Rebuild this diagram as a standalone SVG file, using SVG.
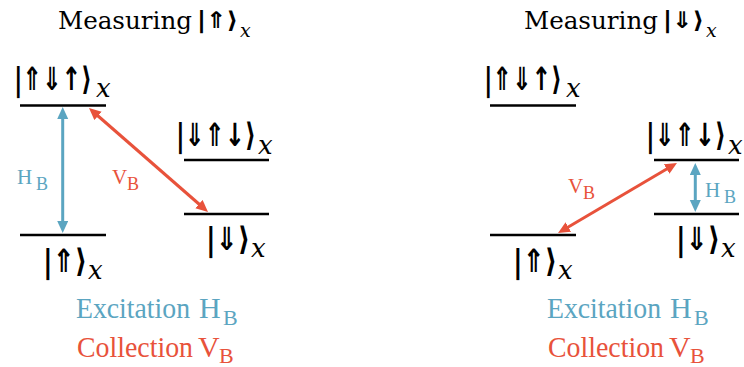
<svg xmlns="http://www.w3.org/2000/svg" width="744" height="367" viewBox="0 0 744 367">
<style>
.lvl{stroke:#000;stroke-width:2.5;fill:none}
.ket{font-family:"DejaVu Sans",sans-serif;font-weight:bold;font-size:32px;fill:#000}
.sub{font-family:"DejaVu Serif",serif;font-style:italic;font-size:26px;fill:#000}
.title{font-family:"DejaVu Serif",serif;font-size:24px;fill:#000}
.tket{font-family:"DejaVu Sans",sans-serif;font-weight:bold;font-size:23px;fill:#000}
.tsub{font-family:"DejaVu Serif",serif;font-style:italic;font-size:19px;fill:#000}
.lg{font-family:"Liberation Serif",serif;font-size:30px}
.lgs{font-family:"Liberation Serif",serif;font-size:22px}
.al{font-family:"Liberation Serif",serif;font-size:21px}
.als{font-family:"Liberation Serif",serif;font-size:18px}
.blue{fill:#5ba5c1}
.red{fill:#e8523b}
.cb{stroke:#5ba5c1;stroke-width:3;fill:none}
.cr{stroke:#e8523b;stroke-width:3;fill:none}
</style>
<defs>
<marker id="hb" markerUnits="userSpaceOnUse" markerWidth="14" markerHeight="12" refX="6" refY="5.5" orient="auto-start-reverse"><path d="M0,0 L12,5.5 L0,11 z" fill="#5ba5c1"/></marker>
<marker id="hr" markerUnits="userSpaceOnUse" markerWidth="14" markerHeight="12" refX="6" refY="5.5" orient="auto-start-reverse"><path d="M0,0 L12,5.5 L0,11 z" fill="#e8523b"/></marker>
</defs>

<g id="title-left">
<text class="title" x="58" y="29" textLength="134" lengthAdjust="spacingAndGlyphs">Measuring</text>
<text class="tket" x="197" y="28" textLength="41" lengthAdjust="spacingAndGlyphs">|⇑⟩</text>
<text class="tsub" x="240" y="37">x</text>
</g>
<g id="title-right">
<text class="title" x="524" y="29" textLength="134" lengthAdjust="spacingAndGlyphs">Measuring</text>
<text class="tket" x="663" y="28" textLength="41" lengthAdjust="spacingAndGlyphs">|⇓⟩</text>
<text class="tsub" x="706" y="37">x</text>
</g>

<g id="L-top">
<line class="lvl" x1="20" y1="105.5" x2="106" y2="105.5"/>
<text class="ket" x="14" y="90" textLength="78" lengthAdjust="spacingAndGlyphs">|⇑⇓↑⟩</text>
<text class="sub" x="96" y="97">x</text>
</g>
<g id="L-bottom">
<line class="lvl" x1="20" y1="235" x2="106" y2="235"/>
<text class="ket" x="43" y="272" textLength="44" lengthAdjust="spacingAndGlyphs">|⇑⟩</text>
<text class="sub" x="88" y="279">x</text>
</g>
<g id="L-mid">
<line class="lvl" x1="184" y1="160" x2="269" y2="160"/>
<text class="ket" x="176" y="146" textLength="80" lengthAdjust="spacingAndGlyphs">|⇓⇑↓⟩</text>
<text class="sub" x="258" y="154">x</text>
</g>
<g id="L-low">
<line class="lvl" x1="184" y1="214" x2="269" y2="214"/>
<text class="ket" x="206" y="250" textLength="44" lengthAdjust="spacingAndGlyphs">|⇓⟩</text>
<text class="sub" x="251" y="257">x</text>
</g>

<g id="R-top">
<line class="lvl" x1="490" y1="105.5" x2="576" y2="105.5"/>
<text class="ket" x="484" y="90" textLength="78" lengthAdjust="spacingAndGlyphs">|⇑⇓↑⟩</text>
<text class="sub" x="566" y="97">x</text>
</g>
<g id="R-bottom">
<line class="lvl" x1="490" y1="235" x2="576" y2="235"/>
<text class="ket" x="513" y="272" textLength="44" lengthAdjust="spacingAndGlyphs">|⇑⟩</text>
<text class="sub" x="558" y="279">x</text>
</g>
<g id="R-mid">
<line class="lvl" x1="654" y1="160" x2="739" y2="160"/>
<text class="ket" x="646" y="146" textLength="80" lengthAdjust="spacingAndGlyphs">|⇓⇑↓⟩</text>
<text class="sub" x="728" y="154">x</text>
</g>
<g id="R-low">
<line class="lvl" x1="654" y1="214" x2="739" y2="214"/>
<text class="ket" x="676" y="250" textLength="44" lengthAdjust="spacingAndGlyphs">|⇓⟩</text>
<text class="sub" x="721" y="257">x</text>
</g>

<g id="connectors">
<line class="cb" x1="62.7" y1="113" x2="62.7" y2="227" marker-start="url(#hb)" marker-end="url(#hb)"/>
<line class="cr" x1="93.5" y1="112" x2="203.5" y2="208" marker-start="url(#hr)" marker-end="url(#hr)"/>
<line class="cr" x1="563.2" y1="230" x2="671.8" y2="166" marker-start="url(#hr)" marker-end="url(#hr)"/>
<line class="cb" x1="695.3" y1="169" x2="695.3" y2="206" marker-start="url(#hb)" marker-end="url(#hb)"/>
</g>

<g id="labels">
<text class="al blue" x="17" y="184">H</text>
<text class="als blue" x="36" y="190">B</text>
<text class="al red" x="112" y="184">V</text>
<text class="als red" x="127" y="190">B</text>
<text class="al red" x="568" y="193">V</text>
<text class="als red" x="583" y="199">B</text>
<text class="al blue" x="705" y="197">H</text>
<text class="als blue" x="724" y="203">B</text>
</g>

<g id="legend-left">
<text class="lg blue" x="76" y="318" textLength="114" lengthAdjust="spacingAndGlyphs">Excitation</text>
<text class="lg blue" x="199" y="318">H</text>
<text class="lgs blue" x="223" y="325">B</text>
<text class="lg red" x="77" y="357" textLength="116" lengthAdjust="spacingAndGlyphs">Collection</text>
<text class="lg red" x="198" y="357">V</text>
<text class="lgs red" x="219" y="363">B</text>
</g>
<g id="legend-right">
<text class="lg blue" x="547" y="318" textLength="114" lengthAdjust="spacingAndGlyphs">Excitation</text>
<text class="lg blue" x="670" y="318">H</text>
<text class="lgs blue" x="694" y="325">B</text>
<text class="lg red" x="548" y="357" textLength="116" lengthAdjust="spacingAndGlyphs">Collection</text>
<text class="lg red" x="669" y="357">V</text>
<text class="lgs red" x="690" y="363">B</text>
</g>
</svg>
